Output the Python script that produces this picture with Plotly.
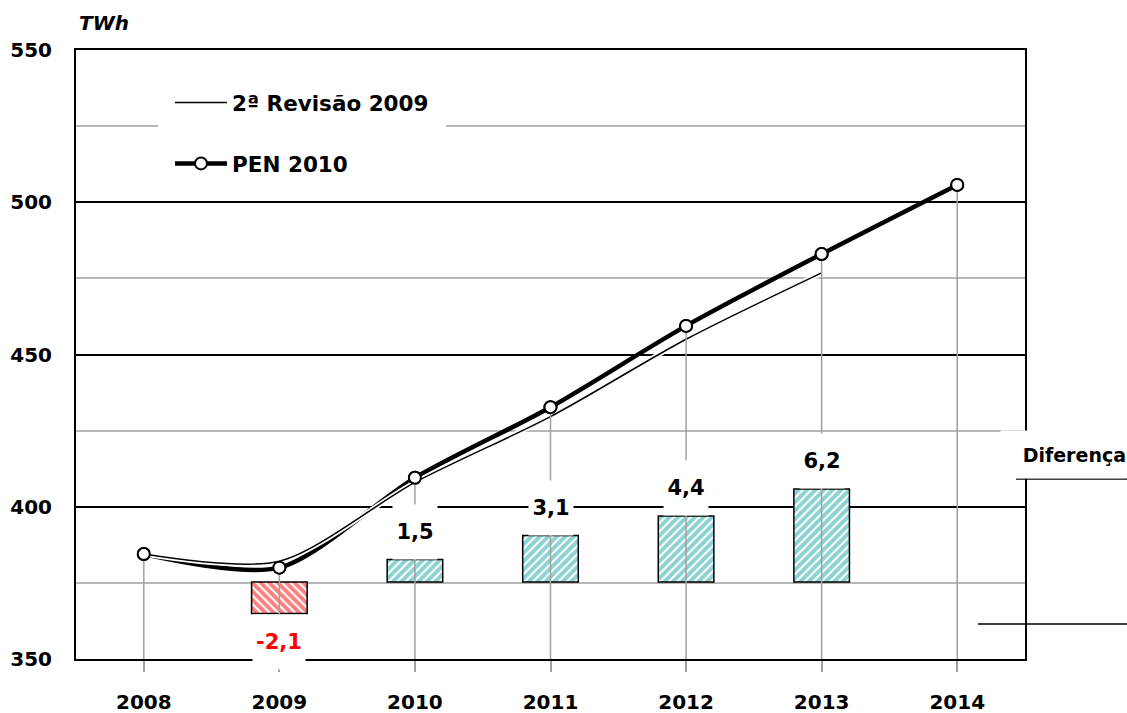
import plotly.graph_objects as go

categories = ["2008", "2009", "2010", "2011", "2012", "2013", "2014"]
pen2010 = [384.5, 380.0, 409.5, 432.7, 459.4, 483.0, 505.7]
revisao2009 = [384.5, 382.1, 408.0, 429.6, 455.0, 476.8, None]
diff_cats = ["2009", "2010", "2011", "2012", "2013"]
diferenca = [-2.1, 1.5, 3.1, 4.4, 6.2]
y_ticks = [350, 400, 450, 500, 550]

FONT = "DejaVu Sans"
TEAL = "#1AA6A6"
RED = "#FF0000"

W, H = 1127, 713
L, T = 76, 50
PW, PH = 949, 609
R, B = W - L - PW, H - T - PH


def px_x(vx):
    return (vx - L) / PW


def px_y(vy):
    return (T + PH - vy) / PH


fig = go.Figure()

fig.add_trace(go.Bar(
    x=diff_cats, y=diferenca, yaxis="y", name="Diferença", showlegend=False,
    width=0.41,
    marker=dict(
        color="white",
        line=dict(color="black", width=1.5),
        pattern=dict(
            shape=["\\" if v < 0 else "/" for v in diferenca],
            fgcolor=[RED if v < 0 else TEAL for v in diferenca],
            bgcolor="white", size=6, solidity=0.65,
        ),
    ),
))

fig.add_trace(go.Scatter(
    x=categories, y=pen2010, yaxis="y2", name="PEN 2010",
    mode="lines+markers", line=dict(color="black", width=4.5, shape="spline", smoothing=0.8),
    marker=dict(size=12, color="white", line=dict(color="black", width=2)),
    legendgroup="b", legendrank=2,
))
fig.add_trace(go.Scatter(
    x=categories, y=revisao2009, yaxis="y2", showlegend=False, hoverinfo="skip",
    mode="lines", line=dict(color="white", width=5, shape="spline", smoothing=0.8),
))
fig.add_trace(go.Scatter(
    x=categories, y=revisao2009, yaxis="y2", name="2ª Revisão 2009",
    mode="lines", line=dict(color="black", width=1.5, shape="spline", smoothing=0.8),
    legendgroup="a", legendrank=1,
))
fig.add_trace(go.Scatter(
    x=categories, y=pen2010, yaxis="y2", showlegend=False,
    mode="markers",
    marker=dict(size=12, color="white", line=dict(color="black", width=2)),
    error_y=dict(type="data", symmetric=False, array=[0] * len(pen2010),
                 arrayminus=[v - y_ticks[0] for v in pen2010],
                 color="#A0A0A0", thickness=1.5, width=0),
))

annotations = []
for c, v in zip(diff_cats, diferenca):
    annotations.append(dict(
        x=categories.index(c), y=v, xref="x", yref="y", showarrow=False,
        text="<b>" + f"{v:.1f}".replace(".", ",") + "</b>",
        yanchor="bottom" if v > 0 else "top",
        width=44 if v > 0 else 52, height=54,
        bgcolor="white", borderpad=0,
        font=dict(family=FONT, size=21, color="black" if v > 0 else RED),
    ))
annotations.append(dict(
    x=px_x(77), y=1, xref="paper", yref="paper", xanchor="left", yanchor="bottom", yshift=13,
    showarrow=False, text="<b><i>TWh</i></b>",
    font=dict(family=FONT, size=20, color="black"),
))
annotations.append(dict(
    x=px_x(1000), y=px_y(454.5), xref="paper", yref="paper",
    xanchor="left", yanchor="middle", showarrow=False, text="<b>Diferença</b>",
    width=125, height=47, align="right", bgcolor="white", borderpad=0,
    font=dict(family=FONT, size=19, color="black"),
))

shapes = [
    dict(type="line", xref="paper", yref="paper",
         x0=px_x(1016), x1=px_x(1127), y0=px_y(479), y1=px_y(479),
         line=dict(color="black", width=1.5)),
    dict(type="line", xref="paper", yref="paper",
         x0=px_x(978), x1=px_x(1127), y0=px_y(624), y1=px_y(624),
         line=dict(color="black", width=1.5)),
]

fig.update_layout(
    width=W, height=H,
    margin=dict(l=L, r=R, t=T, b=B),
    paper_bgcolor="white", plot_bgcolor="white",
    font=dict(family=FONT, color="black"),
    showlegend=True,
    legend=dict(
        x=px_x(158), y=px_y(70), xanchor="left", yanchor="top",
        bgcolor="white", bordercolor="white", borderwidth=12, itemwidth=52,
        tracegroupgap=30, traceorder="grouped",
        font=dict(family=FONT, size=21.5, color="black", weight="bold"),
    ),
    xaxis=dict(
        type="category", categoryorder="array", categoryarray=categories,
        range=[-0.5, 6.5], automargin=False,
        showline=True, mirror=True, linecolor="black", linewidth=2,
        showgrid=False, ticks="outside", ticklen=11, tickwidth=1.5, tickcolor="#A0A0A0",
        ticklabelstandoff=13,
        tickfont=dict(family=FONT, size=20, color="black", weight="bold"),
    ),
    yaxis=dict(range=[-77 / 15, 532 / 15], automargin=False, showgrid=False, zeroline=False,
               showticklabels=False, ticks="", showline=False),
    yaxis2=dict(
        overlaying="y", side="left", anchor="x", automargin=False,
        range=[350, 550], tickvals=y_ticks,
        showline=True, mirror=True, linecolor="black", linewidth=2,
        showgrid=True, gridcolor="black", gridwidth=1.5,
        minor=dict(dtick=25, tick0=0, showgrid=True, gridcolor="#B8B8B8", gridwidth=1.5),
        zeroline=False, ticks="", ticklabelstandoff=18,
        tickfont=dict(family=FONT, size=20, color="black", weight="bold"),
    ),
    bargap=0.59,
    annotations=annotations,
    shapes=shapes,
)

fig.write_html(
    "out.html",
    config={"displayModeBar": False},
    post_script="document.body.style.margin='0';document.body.style.overflow='hidden';",
)
